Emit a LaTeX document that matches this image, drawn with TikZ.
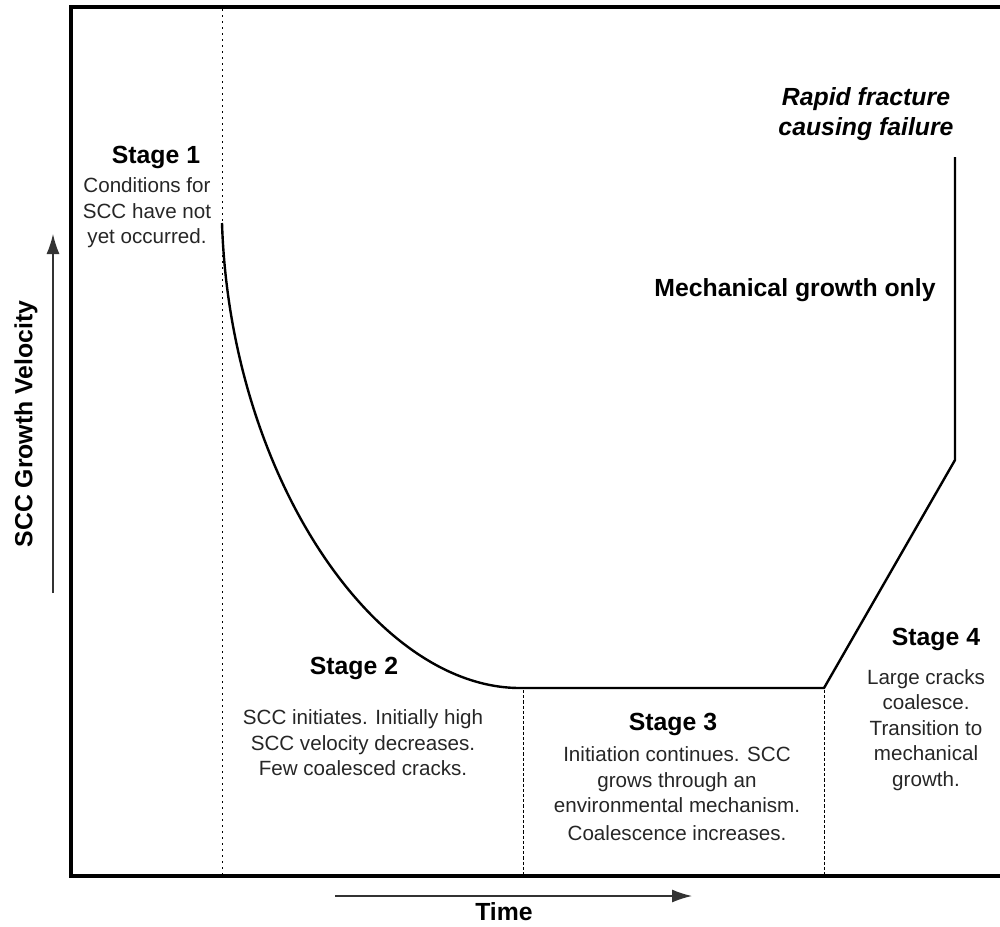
\documentclass[tikz,border=0pt]{standalone}
\usepackage{fontspec}
\setmainfont{Liberation Sans}
\usetikzlibrary{arrows.meta}
\tikzset{
  stagehead/.style={font=\fontsize{12.4}{15}\selectfont\bfseries},
  failnote/.style={align=center, font=\fontsize{12.4}{15}\selectfont\bfseries\itshape},
  stagenote/.style={align=center, text=black!85, font=\fontsize{10.3}{12.7}\selectfont},
  boundary/.style={line width=0.5pt, dash pattern=on 1.6pt off 1pt},
}

\begin{document}
\begin{tikzpicture}[x=0.5pt, y=-0.5pt, >={Latex[length=10pt,width=6.5pt]}]
  \useasboundingbox (0,0) rectangle (1000,926);
  % frame, open on the right
  \draw[line width=1.7pt] (1004,7) -- (71,7) -- (71,876) -- (1004,876);
  % stage boundaries
  \draw[line width=0.5pt, dash pattern=on 0.8pt off 2.2pt] (222,9) -- (222,874);
  \draw[boundary] (523,690) -- (523,874);
  \draw[boundary] (824,690) -- (824,874);
  % growth velocity curve
  \coordinate (c0) at (222,223);
  \coordinate (c1) at (521,688);
  \coordinate (c2) at (824,688);
  \coordinate (c3) at (955,460);
  \coordinate (c4) at (955,157);
  \draw[line width=1.2pt] (c0) .. controls (230,475) and (375,689) .. (c1)
    -- (c2) -- (c3) -- (c4);
  % axes
  \coordinate (ytail) at (53,593);
  \coordinate (yhead) at (53,234);
  \coordinate (xtail) at (335,896);
  \coordinate (xhead) at (692,896);
  \draw[->, line width=0.7pt, black!80] (ytail) -- (yhead);
  \draw[->, line width=0.7pt, black!80] (xtail) -- (xhead);
  \node[stagehead, rotate=90] (vel) at (26,424) {SCC Growth Velocity};
  \node[stagehead] (time) at (504,912) {Time};
  % stage labels
  \node[stagehead] (s1) at (156,157) {Stage 1};
  \node[stagenote] (s1note) at (147,213) {Conditions for\\SCC have not\\yet occurred.};
  \node[stagehead] (s2) at (354,668) {Stage 2};
  \node[stagenote] (s2note) at (363,743) {SCC initiates. Initially high\\SCC velocity decreases.\\Few coalesced cracks.};
  \node[stagehead] (s3) at (673,724) {Stage 3};
  \node[stagenote] (s3note) at (677,794) {Initiation continues. SCC\\grows through an\\environmental mechanism.\\[1.5pt]Coalescence increases.};
  \node[stagehead] (s4) at (936,639) {Stage 4};
  \node[stagenote] (s4note) at (926,730) {Large cracks\\coalesce.\\Transition to\\mechanical\\growth.};
  \node[stagehead] (mech) at (795,290) {Mechanical growth only};
  \node[failnote] (fail) at (866,114) {Rapid fracture\\causing failure};
\end{tikzpicture}
\end{document}
